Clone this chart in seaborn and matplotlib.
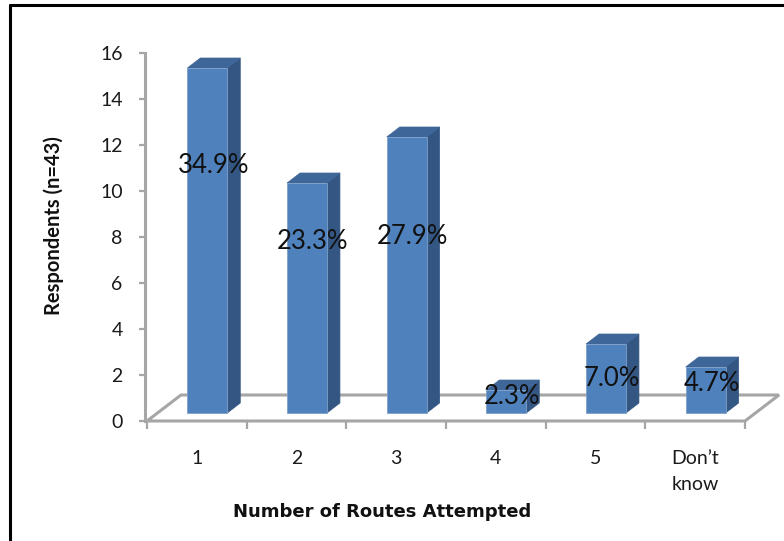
import matplotlib
matplotlib.use("Agg")
import matplotlib.pyplot as plt
import seaborn as sns
import pandas as pd
import numpy as np
from matplotlib.patches import Polygon
from matplotlib.lines import Line2D

# ---- data -------------------------------------------------------------
routes = ["1", "2", "3", "4", "5", "Don\u2019t\nknow"]
respondents = [15, 10, 12, 1, 3, 2]
y_ticks = [0, 2, 4, 6, 8, 10, 12, 14, 16]

# ---- layout / style ---------------------------------------------------
# height (in respondent units) at which each percentage label is centred
label_levels = [11.1, 7.8, 8.0, 1.05, 1.85, 1.65]

FRONT = "#4F81BD"
SIDE = "#335683"
TOP = "#3E6699"
GRID = "#A6A6A6"

W, H, DPI = 784, 541, 100
AX_L, AX_R, AX_B, AX_T = 147, 745, 421, 53          # pixel box of the value plane
PX_X = (AX_R - AX_L) / len(routes)                  # pixels per category
PX_Y = (AX_B - AX_T) / 16                           # pixels per respondent

BAR_W = 0.40
OFF_X, OFF_Y = 10.5 / PX_X, 8 / PX_Y                # bars stand slightly back in the box
DEP_X, DEP_Y = 13 / PX_X, 10 / PX_Y                 # depth of each bar
FLOOR_X, FLOOR_Y = 34 / PX_X, 26 / PX_Y             # depth of the floor

sns.set_theme(style="white")
plt.rcParams["font.family"] = ["Lato", "DejaVu Sans"]

fig = plt.figure(figsize=(W / DPI, H / DPI), dpi=DPI)
fig.patch.set_facecolor("white")
ax = fig.add_axes([AX_L / W, (H - AX_B) / H, (AX_R - AX_L) / W, (AX_B - AX_T) / H])
ax.set_facecolor("none")

df = pd.DataFrame({"route": routes, "respondents": respondents})
sns.barplot(data=df, x="route", y="respondents", color=FRONT, saturation=1,
            width=BAR_W, edgecolor="#7FA0C8", linewidth=0.6, zorder=3, ax=ax)

ax.set_xlim(-0.5, len(routes) - 0.5)
ax.set_ylim(0, 16)

# push the front faces back and add side / top faces
total = sum(respondents)
for patch, n, lvl in zip(ax.patches, respondents, label_levels):
    x0 = patch.get_x() + OFF_X
    h = patch.get_height()
    patch.set_x(x0)
    patch.set_y(OFF_Y)
    x1 = x0 + BAR_W
    y0, y1 = OFF_Y, OFF_Y + h
    side = Polygon([(x1, y0), (x1, y1), (x1 + DEP_X, y1 + DEP_Y), (x1 + DEP_X, y0 + DEP_Y)],
                   closed=True, facecolor=SIDE, edgecolor=SIDE, lw=0.5, zorder=2.9, clip_on=False)
    top = Polygon([(x0, y1), (x1, y1), (x1 + DEP_X, y1 + DEP_Y), (x0 + DEP_X, y1 + DEP_Y)],
                  closed=True, facecolor=TOP, edgecolor=TOP, lw=0.5, zorder=2.9, clip_on=False)
    ax.add_patch(side)
    ax.add_patch(top)
    ax.text(x0 + BAR_W / 2 + 0.06, lvl, f"{n / total * 100:.1f}%", ha="center", va="center",
            fontsize=18.5, color="#111111", zorder=5, clip_on=False)

# floor of the 3-D box
lo, hi = -0.5, len(routes) - 0.5
floor = [(lo, 0), (lo + FLOOR_X, FLOOR_Y), (hi + FLOOR_X, FLOOR_Y), (hi, 0), (lo, 0)]
ax.add_line(Line2D([p[0] for p in floor], [p[1] for p in floor], color=GRID, lw=2.2,
                   zorder=1, clip_on=False, solid_joinstyle="miter"))

# axes styling
for s in ("top", "right", "bottom"):
    ax.spines[s].set_visible(False)
ax.spines["left"].set_color(GRID)
ax.spines["left"].set_linewidth(2.2)
ax.spines["left"].set_position(("outward", 1.5))

ax.set_yticks(y_ticks)
ax.tick_params(axis="y", which="major", left=True, length=4, width=1.6, color=GRID,
               pad=12, labelsize=14, labelcolor="#1a1a1a")
ax.set_xticks(np.arange(lo, hi + 1, 1), minor=True)
ax.tick_params(axis="x", which="major", bottom=True, length=0, pad=21,
               labelsize=14, labelcolor="#1a1a1a")
ax.tick_params(axis="x", which="minor", bottom=True, length=6, width=1.6, color=GRID,
               direction="out")
for lab in ax.get_xticklabels():
    lab.set_linespacing(1.65)

ax.set_xlabel("")
ax.set_ylabel("")
fig.text(382 / W, 1 - 512 / H, "Number of Routes Attempted", ha="center", va="center",
         fontsize=13, fontweight="bold", family=["DejaVu Sans"], color="#111111")
fig.text(54 / W, 1 - 226 / H, "Respondents (n=43)", ha="center", va="center", rotation=90,
         fontsize=14.5, fontweight="bold", color="#111111")

# chart frame
fig.add_artist(Line2D([10 / W, 10 / W], [0, 1 - 5 / H], color="black", lw=2.2))
fig.add_artist(Line2D([10 / W, 1], [1 - 5 / H, 1 - 5 / H], color="black", lw=2.2))

fig.savefig("out.png", dpi=DPI, facecolor="white")
